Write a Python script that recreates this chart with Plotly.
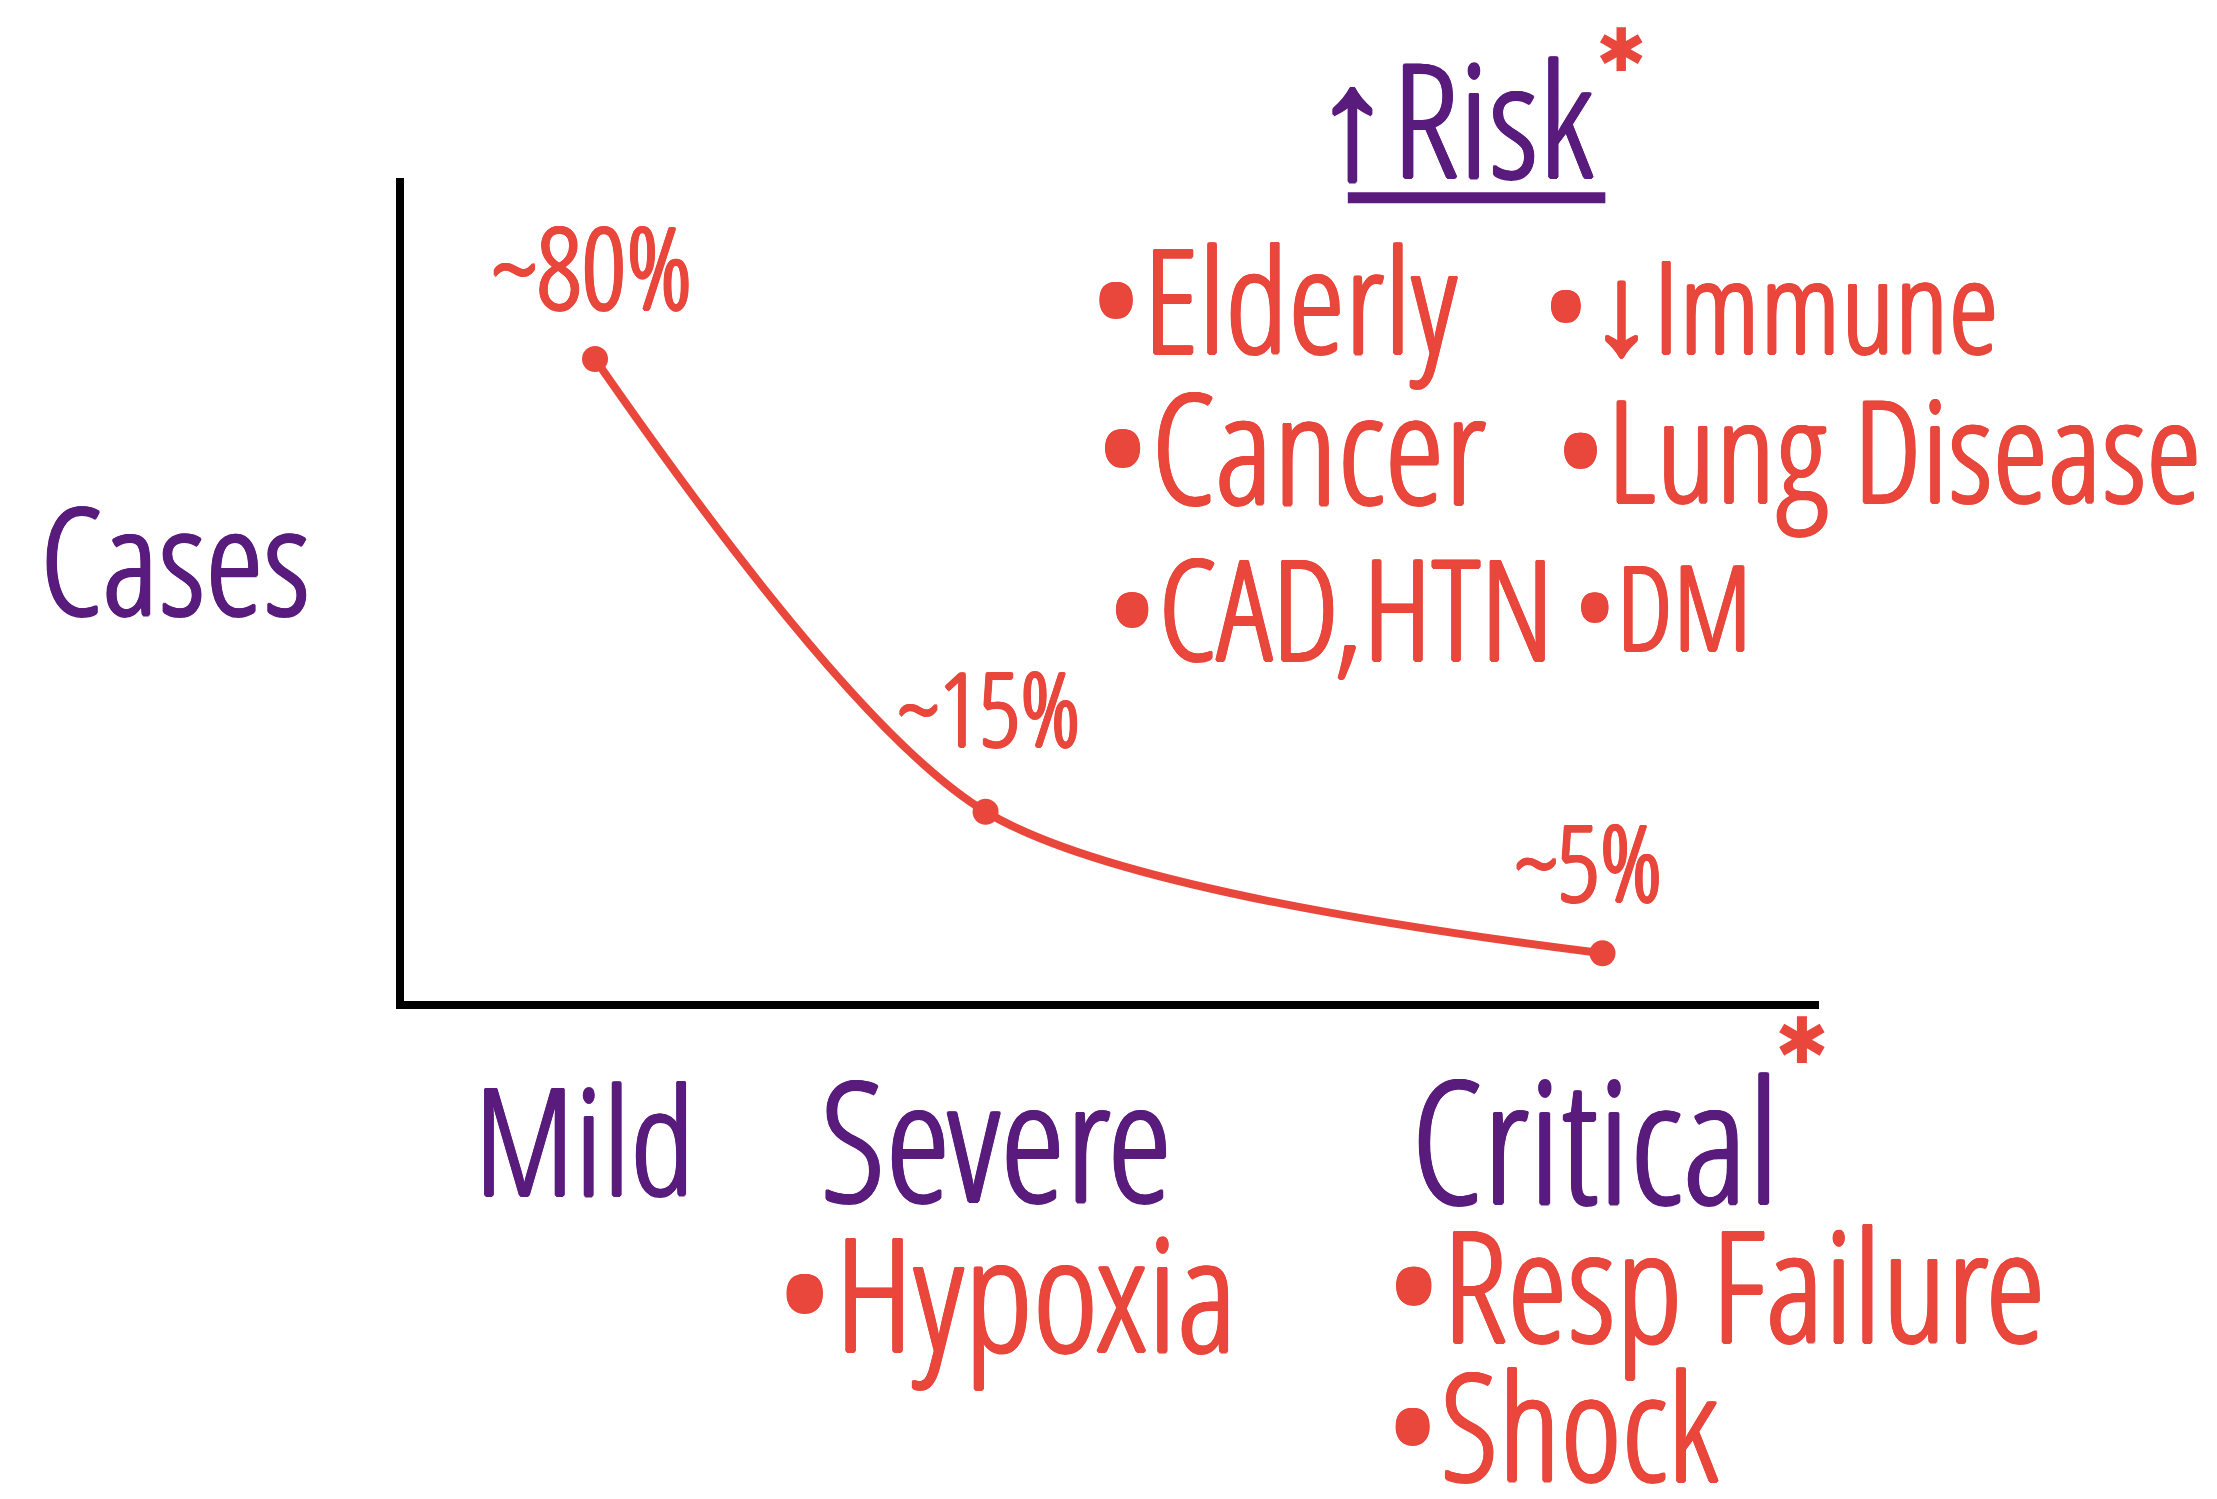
import plotly.graph_objects as go

# ---- data ----
stages = ["Mild", "Severe", "Critical"]
stage_x = [13.5, 41.1, 84.7]          # position of each stage along the x axis (0-100)
case_level = [78, 23, 5.8]            # drawn height of each point (0-100)
case_labels = ["~80%", "~15%", "~5%"]
risk_title = "↑Risk"
risk_left = ["•Elderly", "•Cancer", "•CAD,HTN"]
risk_right = ["•↓Immune", "•Lung Disease", "•DM"]
severe_notes = ["•Hypoxia"]
critical_notes = ["•Resp Failure", "•Shock"]

RED = "#E9463C"
PURPLE = "#591C7D"
FONT = "Open Sans Condensed Light, Open Sans Condensed, Noto Sans Condensed, Noto Sans, sans-serif"

W, H = 2217, 1499
L, R, T, B = 396, 406, 170, 506


def f(size, color):
    sh = ", ".join("%s %s 0 %s" % (dx, dy, color)
                   for dx, dy in [("1.5px", "0"), ("-1.5px", "0"), ("0", "1.5px"), ("0", "-1.5px"),
                                  ("1px", "1px"), ("-1px", "-1px"), ("1px", "-1px"), ("-1px", "1px")])
    return dict(family=FONT, size=size, color=color, weight=300, shadow=sh)


def s(t):
    return "<span style='font-stretch:condensed'>" + t + "</span>"


def note(x, y, t, size, color, xa="left"):
    return dict(x=x, y=y, xref="paper", yref="paper", text=s(t), showarrow=False,
                xanchor=xa, yanchor="middle", font=f(size, color))


fig = go.Figure()
fig.add_trace(go.Scatter(
    x=stage_x, y=case_level, mode="lines+markers",
    line=dict(color=RED, width=8, shape="spline", smoothing=0.8),
    marker=dict(color=RED, size=26),
    hoverinfo="skip", showlegend=False,
))

ann = []
label_shift = [(-3, 94), (4, 105), (-14, 93)]
label_sizes = [112, 102, 106]
for xv, yv, t, (dx, dy), sz in zip(stage_x, case_level, case_labels, label_shift, label_sizes):
    ann.append(dict(x=xv, y=yv, xref="x", yref="y", text=s(t), showarrow=False,
                    xanchor="center", yanchor="middle",
                    xshift=dx, yshift=dy, font=f(sz, RED)))
stage_sizes = [148, 166, 170]
stage_dx = [-11, 10, -7]
for xv, t, sz, dx in zip(stage_x, stages, stage_sizes, stage_dx):
    ann.append(dict(x=xv, y=0, xref="x", yref="paper", text=s(t), showarrow=False,
                    xanchor="center", yanchor="middle",
                    xshift=dx, yshift=-136, font=f(sz, PURPLE)))
ann.append(note(-0.162, 0.539, "Cases", 148, PURPLE, "center"))
ann.append(note(0.741, 1.076, risk_title, 158, PURPLE, "center"))
ann.append(dict(x=0.860, y=1.156, xref="paper", yref="paper", text="✱", showarrow=False,
                xanchor="center", yanchor="middle",
                font=dict(family="DejaVu Sans", size=60, color=RED)))
ann.append(dict(x=0.988, y=-0.049, xref="paper", yref="paper", text="✱", showarrow=False,
                xanchor="center", yanchor="middle",
                font=dict(family="DejaVu Sans", size=64, color=RED)))
left_pos = [(0.483, 0.855), (0.486, 0.675), (0.495, 0.480)]
left_sizes = [144, 152, 139]
right_pos = [(0.803, 0.848), (0.811, 0.673), (0.825, 0.481)]
right_sizes = [127, 141, 116]
for t, (xp, yp), sz in zip(risk_left, left_pos, left_sizes):
    ann.append(note(xp, yp, t, sz, RED))
for t, (xp, yp), sz in zip(risk_right, right_pos, right_sizes):
    ann.append(note(xp, yp, t, sz, RED))
for t in severe_notes:
    ann.append(note(0.261, -0.351, t, 158, RED))
for t, yp, sz in zip(critical_notes, [-0.342, -0.514], [153, 147]):
    ann.append(note(0.692, yp, t, sz, RED))

fig.update_layout(
    width=W, height=H,
    margin=dict(l=L, r=R, t=T, b=B, pad=0),
    paper_bgcolor="white", plot_bgcolor="white",
    annotations=ann,
    shapes=[dict(type="line", xref="paper", yref="paper", x0=0.667, x1=0.849, y0=0.976, y1=0.976,
                 line=dict(color=PURPLE, width=11))],
    xaxis=dict(range=[0, 100], showgrid=False, zeroline=False, showticklabels=False, ticks="",
               showline=True, linecolor="black", linewidth=8, fixedrange=True),
    yaxis=dict(range=[0, 100], showgrid=False, zeroline=False, showticklabels=False, ticks="",
               showline=True, linecolor="black", linewidth=8, fixedrange=True),
)
fig.write_html("out.html")
